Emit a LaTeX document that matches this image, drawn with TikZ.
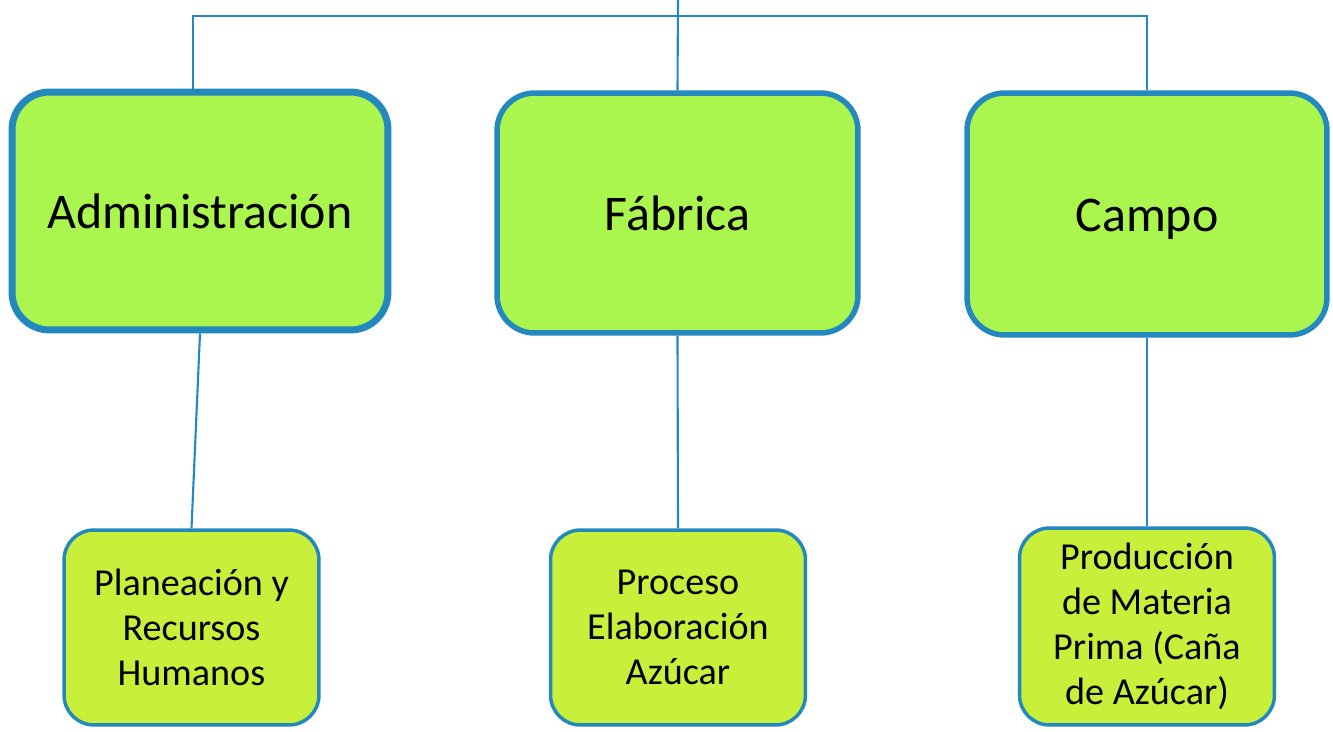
\documentclass[tikz,border=0pt]{standalone}
\usepackage{fontspec}
\setmainfont{Carlito}
\definecolor{lineblue}{RGB}{34,136,190}
\definecolor{areagreen}{RGB}{170,245,78}
\definecolor{unitgreen}{RGB}{200,240,58}

\begin{document}
\begin{tikzpicture}[x=0.02cm, y=-0.02cm,
    area/.style={draw=lineblue, fill=areagreen, rounded corners=0.75cm,
        minimum width=7.2cm, minimum height=4.8cm, line width=5.5*0.5669pt,
        text height=0.7cm, text depth=0.02cm,
        font=\fontsize{28.4}{34}\selectfont},
    unit/.style={draw=lineblue, fill=unitgreen, rounded corners=0.6cm,
        minimum width=5.1cm, minimum height=3.9cm, line width=3.5*0.5669pt,
        text width=4.7cm, align=flush center, font=\fontsize{21.7}{25.6}\selectfont},
    link/.style={draw=lineblue, line width=1.2pt}]
    \useasboundingbox (0,0) rectangle (1333,731);
    \coordinate (top) at (678,0);
    \coordinate (bar) at (678,16);
    % areas
    \node[area, minimum width=7.52cm, minimum height=4.76cm, line width=7*0.5669pt] (admin) at (200,211) {Administración};
    \node[area, minimum width=7.22cm] (fab) at (677.5,213) {Fábrica};
    \node[area, minimum height=4.84cm] (campo) at (1147,214) {Campo};
    % units
    \node[unit] (plan) at (191.5,627.5) {Planeación y\\Recursos\\Humanos};
    \node[unit] (proc) at (678,627.5) {Proceso\\Elaboración\\Azúcar};
    \node[unit, minimum height=3.94cm] (prod) at (1147,626.5) {Producción\\de Materia\\Prima (Caña\\de Azúcar)};
    % lines
    \draw[link] (top) -- (fab.north);
    \draw[link] ([xshift=-0.14cm]admin.north) |- (bar) -| (campo.north);
    \draw[link] (admin.south) -- (plan.north);
    \draw[link] (fab.south) -- (proc.north);
    \draw[link] (campo.south) -- (prod.north);
\end{tikzpicture}
\end{document}
